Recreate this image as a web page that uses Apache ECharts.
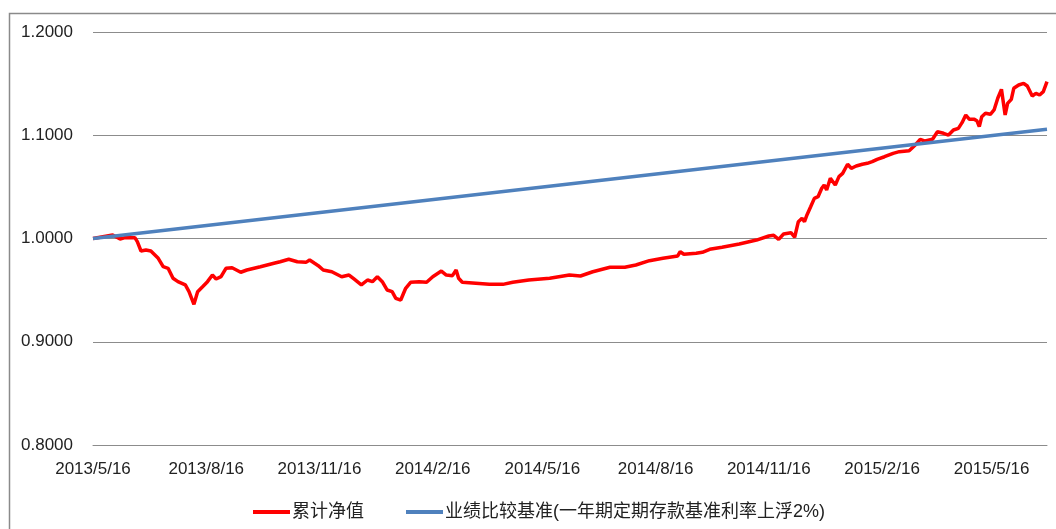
<!DOCTYPE html>
<html lang="zh">
<head>
    <meta charset="UTF-8">
    <title>累计净值</title>
    <script src="https://cdn.jsdelivr.net/npm/echarts@6/dist/echarts.min.js"></script>
    <style>
        html, body { margin: 0; padding: 0; background: #fff; }
    </style>
</head>
<body>

    <div id="main" style="width: 1056px;height:529px;"></div>

    <script type="text/javascript">
        // 累计净值
        var navDates = [
            '2013-05-16','2013-06-01','2013-06-07','2013-06-11','2013-06-19','2013-06-21','2013-06-24','2013-06-28',
            '2013-07-02','2013-07-08','2013-07-12','2013-07-16','2013-07-20','2013-07-24','2013-07-30','2013-08-02',
            '2013-08-06','2013-08-09','2013-08-13','2013-08-17','2013-08-21','2013-08-24','2013-08-28','2013-09-01',
            '2013-09-06','2013-09-13','2013-09-18','2013-09-29','2013-10-10','2013-10-15','2013-10-22','2013-10-29',
            '2013-11-05','2013-11-08','2013-11-12','2013-11-15','2013-11-19','2013-11-26','2013-12-04','2013-12-10',
            '2013-12-14','2013-12-20','2013-12-25','2013-12-29','2014-01-02','2014-01-06','2014-01-10','2014-01-14',
            '2014-01-17','2014-01-21','2014-01-25','2014-01-29','2014-02-05','2014-02-11','2014-02-16','2014-02-23',
            '2014-02-27','2014-03-04','2014-03-07','2014-03-09','2014-03-12','2014-03-23','2014-04-03','2014-04-14',
            '2014-04-22','2014-05-05','2014-05-22','2014-06-07','2014-06-16','2014-06-26','2014-07-10','2014-07-22',
            '2014-07-31','2014-08-11','2014-08-22','2014-09-03','2014-09-05','2014-09-08','2014-09-18','2014-09-23',
            '2014-09-29','2014-10-09','2014-10-23','2014-11-06','2014-11-16','2014-11-20','2014-11-24','2014-11-28',
            '2014-12-04','2014-12-07','2014-12-10','2014-12-13','2014-12-15','2014-12-17','2014-12-20','2014-12-23',
            '2014-12-26','2014-12-29','2014-12-31','2015-01-02','2015-01-05','2015-01-09','2015-01-12','2015-01-15',
            '2015-01-19','2015-01-22','2015-01-26','2015-01-31','2015-02-04','2015-02-08','2015-02-12','2015-02-18',
            '2015-02-25','2015-03-02','2015-03-10','2015-03-15','2015-03-19','2015-03-23','2015-03-29','2015-04-02',
            '2015-04-07','2015-04-11','2015-04-15','2015-04-19','2015-04-22','2015-04-25','2015-04-28','2015-05-02',
            '2015-05-04','2015-05-06','2015-05-08','2015-05-11','2015-05-15','2015-05-18','2015-05-21','2015-05-24',
            '2015-05-27','2015-05-29','2015-06-01','2015-06-03','2015-06-07','2015-06-11','2015-06-14','2015-06-18',
            '2015-06-21','2015-06-24','2015-06-27','2015-06-30'
        ];
        var navValues = [
            1.0000,1.0034,0.9995,1.0008,1.0008,0.9969,0.9879,0.9889,
            0.9879,0.9808,0.9727,0.9711,0.9615,0.9582,0.9550,0.9485,
            0.9363,0.9485,0.9533,0.9582,0.9646,0.9608,0.9630,0.9711,
            0.9717,0.9673,0.9695,0.9727,0.9760,0.9775,0.9799,0.9775,
            0.9769,0.9792,0.9760,0.9737,0.9695,0.9678,0.9630,0.9646,
            0.9608,0.9550,0.9598,0.9582,0.9630,0.9582,0.9501,0.9485,
            0.9421,0.9404,0.9518,0.9576,0.9582,0.9576,0.9630,0.9685,
            0.9646,0.9640,0.9695,0.9615,0.9576,0.9566,0.9556,0.9556,
            0.9576,0.9598,0.9615,0.9646,0.9637,0.9678,0.9721,0.9721,
            0.9743,0.9785,0.9808,0.9831,0.9872,0.9847,0.9857,0.9866,
            0.9895,0.9915,0.9947,0.9985,1.0024,1.0031,0.9992,1.0044,
            1.0056,1.0012,1.0163,1.0196,1.0163,1.0228,1.0308,1.0389,
            1.0405,1.0486,1.0518,1.0470,1.0583,1.0518,1.0599,1.0631,
            1.0719,1.0680,1.0702,1.0719,1.0728,1.0744,1.0767,1.0792,
            1.0825,1.0841,1.0850,1.0906,1.0961,1.0944,1.0961,1.1034,
            1.1019,1.1002,1.1051,1.1067,1.1122,1.1196,1.1154,1.1154,
            1.1141,1.1083,1.1180,1.1213,1.1203,1.1245,1.1358,1.1445,
            1.1196,1.1309,1.1348,1.1455,1.1487,1.1503,1.1477,1.1380,
            1.1406,1.1390,1.1422,1.1519
        ];

        // 业绩比较基准 (straight line in the picture)
        var benchDates = ['2013-05-16', '2015-06-30'];
        var benchValues = [1.0000, 1.1058];

        // x axis labels
        var tickDates = ['2013-05-16','2013-08-16','2013-11-16','2014-02-16','2014-05-16',
                         '2014-08-16','2014-11-16','2015-02-16','2015-05-16'];

        var seriesNames = ['累计净值', '业绩比较基准(一年期定期存款基准利率上浮2%)'];

        function toTime(s) {
            var p = s.split('-');
            return new Date(+p[0], +p[1] - 1, +p[2]).getTime();
        }
        function pairs(dates, vals) {
            return dates.map(function (d, i) { return [toTime(d), vals[i]]; });
        }

        var myChart = echarts.init(document.getElementById('main'));
        var font = '"Liberation Sans", "Noto Sans CJK SC", sans-serif';

        var option = {
            animation: false,
            backgroundColor: '#fff',
            textStyle: { fontFamily: font },
            graphic: [{
                type: 'rect',
                left: 7, top: 11,
                shape: { width: 1100, height: 600 },
                style: { fill: 'none', stroke: '#8a8a8a', lineWidth: 1.5 },
                silent: true
            }],
            grid: { left: 93, right: 9, top: 32, bottom: 84, containLabel: false },
            legend: {
                left: 248, top: 498,
                itemWidth: 37, itemHeight: 4, itemGap: 42,
                icon: 'rect',
                textStyle: { fontSize: 18, color: '#222', fontFamily: font, padding: [0, 0, 0, -3] },
                data: seriesNames
            },
            xAxis: {
                // dates kept as timestamps on a value axis so the labels can sit on chosen dates
                type: 'value',
                min: toTime(tickDates[0]),
                max: toTime('2015-06-30'),
                axisLine: { show: true, lineStyle: { color: '#8c8c8c', width: 1 } },
                axisTick: { show: false },
                splitLine: { show: false },
                axisLabel: {
                    customValues: tickDates.map(toTime),
                    margin: 16,
                    fontSize: 17,
                    color: '#222',
                    hideOverlap: false,
                    formatter: function (v) {
                        var d = new Date(v);
                        return d.getFullYear() + '/' + (d.getMonth() + 1) + '/' + d.getDate();
                    }
                }
            },
            yAxis: {
                type: 'value',
                min: 0.8, max: 1.2, interval: 0.1,
                axisLine: { show: false },
                axisTick: { show: false },
                splitLine: { lineStyle: { color: '#8c8c8c', width: 1 } },
                axisLabel: {
                    margin: 20,
                    fontSize: 17,
                    color: '#222',
                    formatter: function (v) { return v.toFixed(4); }
                }
            },
            series: [{
                name: seriesNames[0],
                type: 'line',
                showSymbol: false,
                symbol: 'none',
                color: '#ff0000',
                lineStyle: { color: '#ff0000', width: 3.5 },
                data: pairs(navDates, navValues)
            }, {
                name: seriesNames[1],
                type: 'line',
                showSymbol: false,
                symbol: 'none',
                color: '#4f81bd',
                lineStyle: { color: '#4f81bd', width: 3.5 },
                data: pairs(benchDates, benchValues)
            }]
        };

        myChart.setOption(option);
    </script>
</body>
</html>
